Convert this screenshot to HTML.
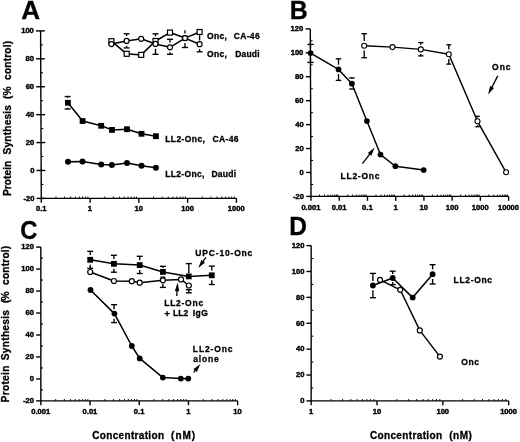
<!DOCTYPE html>
<html><head><meta charset="utf-8"><style>
html,body{margin:0;padding:0;background:#fff;}
svg{display:block;will-change:transform;filter:blur(0.3px);}
text{font-family:"Liberation Sans",sans-serif;font-weight:bold;fill:#000;stroke:#000;stroke-width:0.3px;}
text.t{stroke-width:0.42px;}
</style></head><body>
<svg width="520" height="442" viewBox="0 0 520 442" stroke="#000" stroke-linecap="butt">
<rect x="0" y="0" width="520" height="442" fill="#fff" stroke="none"/>
<g>
<text x="21.15" y="18.70" font-size="25.5" textLength="18.86" lengthAdjust="spacingAndGlyphs">A</text>
<line x1="40.60" y1="30.90" x2="41.30" y2="198.40" stroke-width="1.4"/>
<line x1="36.60" y1="198.40" x2="45.50" y2="198.40" stroke-width="1.4"/>
<text x="34.55" y="200.70" font-size="7.6" text-anchor="end" class="t">-20</text>
<line x1="41.24" y1="184.44" x2="43.44" y2="184.44" stroke-width="1.1"/>
<line x1="36.48" y1="170.48" x2="45.38" y2="170.48" stroke-width="1.4"/>
<text x="34.43" y="172.78" font-size="7.6" text-anchor="end" class="t">0</text>
<line x1="41.12" y1="156.52" x2="43.32" y2="156.52" stroke-width="1.1"/>
<line x1="36.37" y1="142.56" x2="45.27" y2="142.56" stroke-width="1.4"/>
<text x="34.32" y="144.86" font-size="7.6" text-anchor="end" class="t">20</text>
<line x1="41.01" y1="128.61" x2="43.21" y2="128.61" stroke-width="1.1"/>
<line x1="36.25" y1="114.65" x2="45.15" y2="114.65" stroke-width="1.4"/>
<text x="34.20" y="116.95" font-size="7.6" text-anchor="end" class="t">40</text>
<line x1="40.89" y1="100.69" x2="43.09" y2="100.69" stroke-width="1.1"/>
<line x1="36.13" y1="86.73" x2="45.03" y2="86.73" stroke-width="1.4"/>
<text x="34.08" y="89.03" font-size="7.6" text-anchor="end" class="t">60</text>
<line x1="40.78" y1="72.77" x2="42.98" y2="72.77" stroke-width="1.1"/>
<line x1="36.02" y1="58.82" x2="44.92" y2="58.82" stroke-width="1.4"/>
<text x="33.97" y="61.12" font-size="7.6" text-anchor="end" class="t">80</text>
<line x1="40.66" y1="44.86" x2="42.86" y2="44.86" stroke-width="1.1"/>
<line x1="35.90" y1="30.90" x2="44.80" y2="30.90" stroke-width="1.4"/>
<text x="33.85" y="33.20" font-size="7.6" text-anchor="end" class="t">100</text>
<line x1="41.30" y1="198.40" x2="236.42" y2="198.40" stroke-width="1.4"/>
<line x1="41.30" y1="198.40" x2="41.30" y2="202.80" stroke-width="1.4"/>
<line x1="55.98" y1="198.40" x2="55.98" y2="196.60" stroke-width="1.0"/>
<line x1="64.57" y1="198.40" x2="64.57" y2="196.60" stroke-width="1.0"/>
<line x1="70.67" y1="198.40" x2="70.67" y2="196.60" stroke-width="1.0"/>
<line x1="75.40" y1="198.40" x2="75.40" y2="196.60" stroke-width="1.0"/>
<line x1="79.26" y1="198.40" x2="79.26" y2="196.60" stroke-width="1.0"/>
<line x1="82.52" y1="198.40" x2="82.52" y2="196.60" stroke-width="1.0"/>
<line x1="85.35" y1="198.40" x2="85.35" y2="196.60" stroke-width="1.0"/>
<line x1="87.85" y1="198.40" x2="87.85" y2="196.60" stroke-width="1.0"/>
<line x1="90.08" y1="198.40" x2="90.08" y2="202.80" stroke-width="1.4"/>
<line x1="104.76" y1="198.40" x2="104.76" y2="196.60" stroke-width="1.0"/>
<line x1="113.35" y1="198.40" x2="113.35" y2="196.60" stroke-width="1.0"/>
<line x1="119.45" y1="198.40" x2="119.45" y2="196.60" stroke-width="1.0"/>
<line x1="124.18" y1="198.40" x2="124.18" y2="196.60" stroke-width="1.0"/>
<line x1="128.04" y1="198.40" x2="128.04" y2="196.60" stroke-width="1.0"/>
<line x1="131.30" y1="198.40" x2="131.30" y2="196.60" stroke-width="1.0"/>
<line x1="134.13" y1="198.40" x2="134.13" y2="196.60" stroke-width="1.0"/>
<line x1="136.63" y1="198.40" x2="136.63" y2="196.60" stroke-width="1.0"/>
<line x1="138.86" y1="198.40" x2="138.86" y2="202.80" stroke-width="1.4"/>
<line x1="153.54" y1="198.40" x2="153.54" y2="196.60" stroke-width="1.0"/>
<line x1="162.13" y1="198.40" x2="162.13" y2="196.60" stroke-width="1.0"/>
<line x1="168.23" y1="198.40" x2="168.23" y2="196.60" stroke-width="1.0"/>
<line x1="172.96" y1="198.40" x2="172.96" y2="196.60" stroke-width="1.0"/>
<line x1="176.82" y1="198.40" x2="176.82" y2="196.60" stroke-width="1.0"/>
<line x1="180.08" y1="198.40" x2="180.08" y2="196.60" stroke-width="1.0"/>
<line x1="182.91" y1="198.40" x2="182.91" y2="196.60" stroke-width="1.0"/>
<line x1="185.41" y1="198.40" x2="185.41" y2="196.60" stroke-width="1.0"/>
<line x1="187.64" y1="198.40" x2="187.64" y2="202.80" stroke-width="1.4"/>
<line x1="202.32" y1="198.40" x2="202.32" y2="196.60" stroke-width="1.0"/>
<line x1="210.91" y1="198.40" x2="210.91" y2="196.60" stroke-width="1.0"/>
<line x1="217.01" y1="198.40" x2="217.01" y2="196.60" stroke-width="1.0"/>
<line x1="221.74" y1="198.40" x2="221.74" y2="196.60" stroke-width="1.0"/>
<line x1="225.60" y1="198.40" x2="225.60" y2="196.60" stroke-width="1.0"/>
<line x1="228.86" y1="198.40" x2="228.86" y2="196.60" stroke-width="1.0"/>
<line x1="231.69" y1="198.40" x2="231.69" y2="196.60" stroke-width="1.0"/>
<line x1="234.19" y1="198.40" x2="234.19" y2="196.60" stroke-width="1.0"/>
<line x1="236.42" y1="198.40" x2="236.42" y2="202.80" stroke-width="1.4"/>
<text x="41.20" y="211.20" font-size="7.6" text-anchor="middle" class="t">0.1</text>
<text x="89.98" y="211.20" font-size="7.6" text-anchor="middle" class="t">1</text>
<text x="138.76" y="211.20" font-size="7.6" text-anchor="middle" class="t">10</text>
<text x="187.54" y="211.20" font-size="7.6" text-anchor="middle" class="t">100</text>
<text x="236.32" y="211.20" font-size="7.6" text-anchor="middle" class="t">1000</text>
<text x="0" y="0" font-size="10.2" letter-spacing="0.027" transform="translate(11.20,195.99) rotate(-90)">Protein</text>
<text x="0" y="0" font-size="10.2" letter-spacing="0.156" transform="translate(11.20,154.41) rotate(-90)">Synthesis</text>
<text x="0" y="0" font-size="10.2" letter-spacing="0.221" transform="translate(11.20,99.11) rotate(-90)">(%</text>
<text x="0" y="0" font-size="10.2" letter-spacing="0.150" transform="translate(11.20,79.91) rotate(-90)">control)</text>
<line x1="126.60" y1="33.80" x2="126.60" y2="36.00" stroke-width="1.35"/>
<line x1="123.60" y1="33.80" x2="129.60" y2="33.80" stroke-width="1.35"/>
<line x1="126.60" y1="45.80" x2="126.60" y2="47.90" stroke-width="1.35"/>
<line x1="123.60" y1="47.90" x2="129.60" y2="47.90" stroke-width="1.35"/>
<line x1="155.50" y1="33.80" x2="155.50" y2="36.40" stroke-width="1.35"/>
<line x1="152.50" y1="33.80" x2="158.50" y2="33.80" stroke-width="1.35"/>
<line x1="155.50" y1="48.80" x2="155.50" y2="54.30" stroke-width="1.35"/>
<line x1="152.50" y1="54.30" x2="158.50" y2="54.30" stroke-width="1.35"/>
<line x1="170.00" y1="39.30" x2="170.00" y2="42.40" stroke-width="1.35"/>
<line x1="167.00" y1="39.30" x2="173.00" y2="39.30" stroke-width="1.35"/>
<line x1="170.00" y1="52.20" x2="170.00" y2="54.30" stroke-width="1.35"/>
<line x1="167.00" y1="54.30" x2="173.00" y2="54.30" stroke-width="1.35"/>
<line x1="185.00" y1="30.20" x2="185.00" y2="33.40" stroke-width="1.35"/>
<line x1="185.00" y1="43.00" x2="185.00" y2="47.50" stroke-width="1.35"/>
<line x1="182.00" y1="47.50" x2="188.00" y2="47.50" stroke-width="1.35"/>
<line x1="199.60" y1="35.20" x2="199.60" y2="40.50" stroke-width="1.35"/>
<line x1="199.60" y1="49.10" x2="199.60" y2="51.80" stroke-width="1.35"/>
<line x1="196.60" y1="51.80" x2="202.60" y2="51.80" stroke-width="1.35"/>
<polyline points="111.40,44.10 126.60,40.90 141.20,38.80 155.50,43.90 170.00,47.30 185.00,38.10 199.60,44.20" fill="none" stroke-width="1.55" stroke-linejoin="round"/>
<polyline points="111.40,41.20 126.70,53.80 141.20,54.90 155.50,41.00 170.00,32.60 185.00,38.10 199.60,32.00" fill="none" stroke-width="1.55" stroke-linejoin="round"/>
<rect x="108.90" y="38.70" width="5.0" height="5.0" fill="#fff" stroke-width="1.2"/>
<rect x="124.20" y="51.30" width="5.0" height="5.0" fill="#fff" stroke-width="1.2"/>
<rect x="138.70" y="52.40" width="5.0" height="5.0" fill="#fff" stroke-width="1.2"/>
<rect x="153.00" y="38.50" width="5.0" height="5.0" fill="#fff" stroke-width="1.2"/>
<rect x="167.50" y="30.10" width="5.0" height="5.0" fill="#fff" stroke-width="1.2"/>
<rect x="182.90" y="36.00" width="4.2" height="4.2" fill="#fff" stroke-width="1.2"/>
<rect x="197.10" y="29.50" width="5.0" height="5.0" fill="#fff" stroke-width="1.2"/>
<circle cx="111.40" cy="44.10" r="2.5" fill="#fff" stroke-width="1.2"/>
<circle cx="126.60" cy="40.90" r="2.5" fill="#fff" stroke-width="1.2"/>
<circle cx="141.20" cy="38.80" r="2.5" fill="#fff" stroke-width="1.2"/>
<circle cx="155.50" cy="43.90" r="2.5" fill="#fff" stroke-width="1.2"/>
<circle cx="170.00" cy="47.30" r="2.5" fill="#fff" stroke-width="1.2"/>
<circle cx="185.00" cy="38.10" r="2.5" fill="#fff" stroke-width="1.2"/>
<circle cx="199.60" cy="44.20" r="2.5" fill="#fff" stroke-width="1.2"/>
<text x="207.06" y="39.30" font-size="8.5" letter-spacing="0.274">Onc,</text>
<text x="233.66" y="39.30" font-size="8.5" letter-spacing="0.348">CA-46</text>
<text x="207.06" y="56.60" font-size="8.5" letter-spacing="0.274">Onc,</text>
<text x="235.23" y="56.60" font-size="8.5" letter-spacing="0.190">Daudi</text>
<line x1="67.60" y1="96.50" x2="67.60" y2="97.90" stroke-width="1.35"/>
<line x1="64.60" y1="96.50" x2="70.60" y2="96.50" stroke-width="1.35"/>
<line x1="67.60" y1="107.70" x2="67.60" y2="109.00" stroke-width="1.35"/>
<line x1="64.60" y1="109.00" x2="70.60" y2="109.00" stroke-width="1.35"/>
<polyline points="67.90,102.80 82.60,121.00 101.20,125.80 112.00,129.90 127.00,129.20 141.50,133.80 155.90,136.20" fill="none" stroke-width="1.55" stroke-linejoin="round"/>
<polyline points="68.00,161.80 82.50,161.50 101.20,164.40 111.90,165.00 127.00,162.90 141.50,165.70 155.90,167.80" fill="none" stroke-width="1.55" stroke-linejoin="round"/>
<rect x="65.00" y="99.90" width="5.8" height="5.8" fill="#000" stroke="none"/>
<rect x="79.70" y="118.10" width="5.8" height="5.8" fill="#000" stroke="none"/>
<rect x="98.30" y="122.90" width="5.8" height="5.8" fill="#000" stroke="none"/>
<rect x="109.10" y="127.00" width="5.8" height="5.8" fill="#000" stroke="none"/>
<rect x="124.10" y="126.30" width="5.8" height="5.8" fill="#000" stroke="none"/>
<rect x="138.60" y="130.90" width="5.8" height="5.8" fill="#000" stroke="none"/>
<rect x="153.00" y="133.30" width="5.8" height="5.8" fill="#000" stroke="none"/>
<circle cx="68.00" cy="161.80" r="3.0" fill="#000" stroke="none"/>
<circle cx="82.50" cy="161.50" r="3.0" fill="#000" stroke="none"/>
<circle cx="101.20" cy="164.40" r="3.0" fill="#000" stroke="none"/>
<circle cx="111.90" cy="165.00" r="3.0" fill="#000" stroke="none"/>
<circle cx="127.00" cy="162.90" r="3.0" fill="#000" stroke="none"/>
<circle cx="141.50" cy="165.70" r="3.0" fill="#000" stroke="none"/>
<circle cx="155.90" cy="167.80" r="3.0" fill="#000" stroke="none"/>
<text x="165.23" y="142.00" font-size="8.5" letter-spacing="0.403">LL2-Onc,</text>
<text x="212.46" y="142.00" font-size="8.5" letter-spacing="0.373">CA-46</text>
<text x="165.23" y="177.00" font-size="8.5" letter-spacing="0.332">LL2-Onc,</text>
<text x="211.43" y="177.00" font-size="8.5" letter-spacing="0.265">Daudi</text>
<text x="289.72" y="19.00" font-size="25.5" textLength="18.00" lengthAdjust="spacingAndGlyphs">B</text>
<line x1="310.30" y1="28.90" x2="311.00" y2="196.40" stroke-width="1.4"/>
<line x1="306.30" y1="196.40" x2="311.00" y2="196.40" stroke-width="1.4"/>
<text x="303.95" y="198.70" font-size="7.6" text-anchor="end" class="t">-20</text>
<line x1="310.95" y1="184.43" x2="313.15" y2="184.43" stroke-width="1.1"/>
<line x1="306.20" y1="172.47" x2="310.90" y2="172.47" stroke-width="1.4"/>
<text x="303.85" y="174.77" font-size="7.6" text-anchor="end" class="t">0</text>
<line x1="310.85" y1="160.50" x2="313.05" y2="160.50" stroke-width="1.1"/>
<line x1="306.10" y1="148.54" x2="310.80" y2="148.54" stroke-width="1.4"/>
<text x="303.75" y="150.84" font-size="7.6" text-anchor="end" class="t">20</text>
<line x1="310.75" y1="136.58" x2="312.95" y2="136.58" stroke-width="1.1"/>
<line x1="306.00" y1="124.61" x2="310.70" y2="124.61" stroke-width="1.4"/>
<text x="303.65" y="126.91" font-size="7.6" text-anchor="end" class="t">40</text>
<line x1="310.65" y1="112.65" x2="312.85" y2="112.65" stroke-width="1.1"/>
<line x1="305.90" y1="100.68" x2="310.60" y2="100.68" stroke-width="1.4"/>
<text x="303.55" y="102.98" font-size="7.6" text-anchor="end" class="t">60</text>
<line x1="310.55" y1="88.72" x2="312.75" y2="88.72" stroke-width="1.1"/>
<line x1="305.80" y1="76.76" x2="310.50" y2="76.76" stroke-width="1.4"/>
<text x="303.45" y="79.06" font-size="7.6" text-anchor="end" class="t">80</text>
<line x1="310.45" y1="64.79" x2="312.65" y2="64.79" stroke-width="1.1"/>
<line x1="305.70" y1="52.83" x2="310.40" y2="52.83" stroke-width="1.4"/>
<text x="303.35" y="55.13" font-size="7.6" text-anchor="end" class="t">100</text>
<line x1="310.35" y1="40.86" x2="312.55" y2="40.86" stroke-width="1.1"/>
<line x1="305.60" y1="28.90" x2="310.30" y2="28.90" stroke-width="1.4"/>
<text x="303.25" y="31.20" font-size="7.6" text-anchor="end" class="t">120</text>
<line x1="311.00" y1="196.40" x2="508.61" y2="196.40" stroke-width="1.4"/>
<line x1="311.00" y1="196.40" x2="311.00" y2="200.80" stroke-width="1.4"/>
<line x1="319.50" y1="196.40" x2="319.50" y2="194.60" stroke-width="1.0"/>
<line x1="324.47" y1="196.40" x2="324.47" y2="194.60" stroke-width="1.0"/>
<line x1="328.00" y1="196.40" x2="328.00" y2="194.60" stroke-width="1.0"/>
<line x1="330.73" y1="196.40" x2="330.73" y2="194.60" stroke-width="1.0"/>
<line x1="332.97" y1="196.40" x2="332.97" y2="194.60" stroke-width="1.0"/>
<line x1="334.86" y1="196.40" x2="334.86" y2="194.60" stroke-width="1.0"/>
<line x1="336.49" y1="196.40" x2="336.49" y2="194.60" stroke-width="1.0"/>
<line x1="337.94" y1="196.40" x2="337.94" y2="194.60" stroke-width="1.0"/>
<line x1="339.23" y1="196.40" x2="339.23" y2="200.80" stroke-width="1.4"/>
<line x1="347.73" y1="196.40" x2="347.73" y2="194.60" stroke-width="1.0"/>
<line x1="352.70" y1="196.40" x2="352.70" y2="194.60" stroke-width="1.0"/>
<line x1="356.23" y1="196.40" x2="356.23" y2="194.60" stroke-width="1.0"/>
<line x1="358.96" y1="196.40" x2="358.96" y2="194.60" stroke-width="1.0"/>
<line x1="361.20" y1="196.40" x2="361.20" y2="194.60" stroke-width="1.0"/>
<line x1="363.09" y1="196.40" x2="363.09" y2="194.60" stroke-width="1.0"/>
<line x1="364.72" y1="196.40" x2="364.72" y2="194.60" stroke-width="1.0"/>
<line x1="366.17" y1="196.40" x2="366.17" y2="194.60" stroke-width="1.0"/>
<line x1="367.46" y1="196.40" x2="367.46" y2="200.80" stroke-width="1.4"/>
<line x1="375.96" y1="196.40" x2="375.96" y2="194.60" stroke-width="1.0"/>
<line x1="380.93" y1="196.40" x2="380.93" y2="194.60" stroke-width="1.0"/>
<line x1="384.46" y1="196.40" x2="384.46" y2="194.60" stroke-width="1.0"/>
<line x1="387.19" y1="196.40" x2="387.19" y2="194.60" stroke-width="1.0"/>
<line x1="389.43" y1="196.40" x2="389.43" y2="194.60" stroke-width="1.0"/>
<line x1="391.32" y1="196.40" x2="391.32" y2="194.60" stroke-width="1.0"/>
<line x1="392.95" y1="196.40" x2="392.95" y2="194.60" stroke-width="1.0"/>
<line x1="394.40" y1="196.40" x2="394.40" y2="194.60" stroke-width="1.0"/>
<line x1="395.69" y1="196.40" x2="395.69" y2="200.80" stroke-width="1.4"/>
<line x1="404.19" y1="196.40" x2="404.19" y2="194.60" stroke-width="1.0"/>
<line x1="409.16" y1="196.40" x2="409.16" y2="194.60" stroke-width="1.0"/>
<line x1="412.69" y1="196.40" x2="412.69" y2="194.60" stroke-width="1.0"/>
<line x1="415.42" y1="196.40" x2="415.42" y2="194.60" stroke-width="1.0"/>
<line x1="417.66" y1="196.40" x2="417.66" y2="194.60" stroke-width="1.0"/>
<line x1="419.55" y1="196.40" x2="419.55" y2="194.60" stroke-width="1.0"/>
<line x1="421.18" y1="196.40" x2="421.18" y2="194.60" stroke-width="1.0"/>
<line x1="422.63" y1="196.40" x2="422.63" y2="194.60" stroke-width="1.0"/>
<line x1="423.92" y1="196.40" x2="423.92" y2="200.80" stroke-width="1.4"/>
<line x1="432.42" y1="196.40" x2="432.42" y2="194.60" stroke-width="1.0"/>
<line x1="437.39" y1="196.40" x2="437.39" y2="194.60" stroke-width="1.0"/>
<line x1="440.92" y1="196.40" x2="440.92" y2="194.60" stroke-width="1.0"/>
<line x1="443.65" y1="196.40" x2="443.65" y2="194.60" stroke-width="1.0"/>
<line x1="445.89" y1="196.40" x2="445.89" y2="194.60" stroke-width="1.0"/>
<line x1="447.78" y1="196.40" x2="447.78" y2="194.60" stroke-width="1.0"/>
<line x1="449.41" y1="196.40" x2="449.41" y2="194.60" stroke-width="1.0"/>
<line x1="450.86" y1="196.40" x2="450.86" y2="194.60" stroke-width="1.0"/>
<line x1="452.15" y1="196.40" x2="452.15" y2="200.80" stroke-width="1.4"/>
<line x1="460.65" y1="196.40" x2="460.65" y2="194.60" stroke-width="1.0"/>
<line x1="465.62" y1="196.40" x2="465.62" y2="194.60" stroke-width="1.0"/>
<line x1="469.15" y1="196.40" x2="469.15" y2="194.60" stroke-width="1.0"/>
<line x1="471.88" y1="196.40" x2="471.88" y2="194.60" stroke-width="1.0"/>
<line x1="474.12" y1="196.40" x2="474.12" y2="194.60" stroke-width="1.0"/>
<line x1="476.01" y1="196.40" x2="476.01" y2="194.60" stroke-width="1.0"/>
<line x1="477.64" y1="196.40" x2="477.64" y2="194.60" stroke-width="1.0"/>
<line x1="479.09" y1="196.40" x2="479.09" y2="194.60" stroke-width="1.0"/>
<line x1="480.38" y1="196.40" x2="480.38" y2="200.80" stroke-width="1.4"/>
<line x1="488.88" y1="196.40" x2="488.88" y2="194.60" stroke-width="1.0"/>
<line x1="493.85" y1="196.40" x2="493.85" y2="194.60" stroke-width="1.0"/>
<line x1="497.38" y1="196.40" x2="497.38" y2="194.60" stroke-width="1.0"/>
<line x1="500.11" y1="196.40" x2="500.11" y2="194.60" stroke-width="1.0"/>
<line x1="502.35" y1="196.40" x2="502.35" y2="194.60" stroke-width="1.0"/>
<line x1="504.24" y1="196.40" x2="504.24" y2="194.60" stroke-width="1.0"/>
<line x1="505.87" y1="196.40" x2="505.87" y2="194.60" stroke-width="1.0"/>
<line x1="507.32" y1="196.40" x2="507.32" y2="194.60" stroke-width="1.0"/>
<line x1="508.61" y1="196.40" x2="508.61" y2="200.80" stroke-width="1.4"/>
<text x="310.90" y="209.60" font-size="7.6" text-anchor="middle" class="t">0.001</text>
<text x="339.13" y="209.60" font-size="7.6" text-anchor="middle" class="t">0.01</text>
<text x="367.36" y="209.60" font-size="7.6" text-anchor="middle" class="t">0.1</text>
<text x="395.59" y="209.60" font-size="7.6" text-anchor="middle" class="t">1</text>
<text x="423.82" y="209.60" font-size="7.6" text-anchor="middle" class="t">10</text>
<text x="452.05" y="209.60" font-size="7.6" text-anchor="middle" class="t">100</text>
<text x="480.28" y="209.60" font-size="7.6" text-anchor="middle" class="t">1000</text>
<text x="508.51" y="209.60" font-size="7.6" text-anchor="middle" class="t">10000</text>
<line x1="310.50" y1="44.40" x2="310.50" y2="48.70" stroke-width="1.35"/>
<line x1="307.35" y1="44.40" x2="313.65" y2="44.40" stroke-width="1.35"/>
<line x1="310.50" y1="58.10" x2="310.50" y2="62.40" stroke-width="1.35"/>
<line x1="307.35" y1="62.40" x2="313.65" y2="62.40" stroke-width="1.35"/>
<line x1="338.50" y1="58.80" x2="338.50" y2="64.70" stroke-width="1.35"/>
<line x1="335.75" y1="58.80" x2="341.25" y2="58.80" stroke-width="1.35"/>
<line x1="338.50" y1="74.10" x2="338.50" y2="80.40" stroke-width="1.35"/>
<line x1="335.75" y1="80.40" x2="341.25" y2="80.40" stroke-width="1.35"/>
<line x1="351.90" y1="77.90" x2="351.90" y2="79.00" stroke-width="1.35"/>
<line x1="349.15" y1="77.90" x2="354.65" y2="77.90" stroke-width="1.35"/>
<line x1="351.90" y1="88.40" x2="351.90" y2="89.00" stroke-width="1.35"/>
<line x1="349.15" y1="89.00" x2="354.65" y2="89.00" stroke-width="1.35"/>
<line x1="364.20" y1="33.70" x2="364.20" y2="41.10" stroke-width="1.35"/>
<line x1="361.45" y1="33.70" x2="366.95" y2="33.70" stroke-width="1.35"/>
<line x1="364.20" y1="50.50" x2="364.20" y2="57.70" stroke-width="1.35"/>
<line x1="361.45" y1="57.70" x2="366.95" y2="57.70" stroke-width="1.35"/>
<line x1="420.80" y1="42.60" x2="420.80" y2="44.70" stroke-width="1.35"/>
<line x1="418.15" y1="42.60" x2="423.45" y2="42.60" stroke-width="1.35"/>
<line x1="420.80" y1="54.10" x2="420.80" y2="55.90" stroke-width="1.35"/>
<line x1="418.15" y1="55.90" x2="423.45" y2="55.90" stroke-width="1.35"/>
<line x1="448.80" y1="44.80" x2="448.80" y2="49.50" stroke-width="1.35"/>
<line x1="446.40" y1="44.80" x2="451.20" y2="44.80" stroke-width="1.35"/>
<line x1="448.80" y1="58.90" x2="448.80" y2="64.10" stroke-width="1.35"/>
<line x1="446.40" y1="64.10" x2="451.20" y2="64.10" stroke-width="1.35"/>
<line x1="477.50" y1="116.30" x2="477.50" y2="117.50" stroke-width="1.35"/>
<line x1="475.25" y1="116.30" x2="479.75" y2="116.30" stroke-width="1.35"/>
<line x1="477.50" y1="125.10" x2="477.50" y2="126.70" stroke-width="1.35"/>
<line x1="475.25" y1="126.70" x2="479.75" y2="126.70" stroke-width="1.35"/>
<polyline points="310.60,53.10 338.50,69.40 351.90,83.70 366.90,121.00 380.50,154.60 395.40,166.20 423.70,170.00" fill="none" stroke-width="1.45" stroke-linejoin="round"/>
<polyline points="364.20,45.80 392.50,47.10 420.80,49.40 448.80,54.20 477.50,121.30 506.10,172.30" fill="none" stroke-width="1.45" stroke-linejoin="round"/>
<circle cx="310.60" cy="53.10" r="2.85" fill="#000" stroke="none"/>
<circle cx="338.50" cy="69.40" r="2.85" fill="#000" stroke="none"/>
<circle cx="351.90" cy="83.70" r="2.85" fill="#000" stroke="none"/>
<circle cx="366.90" cy="121.00" r="2.85" fill="#000" stroke="none"/>
<circle cx="380.50" cy="154.60" r="2.85" fill="#000" stroke="none"/>
<circle cx="395.40" cy="166.20" r="2.85" fill="#000" stroke="none"/>
<circle cx="423.70" cy="170.00" r="2.85" fill="#000" stroke="none"/>
<circle cx="364.20" cy="45.80" r="2.5" fill="#fff" stroke-width="1.1"/>
<circle cx="392.50" cy="47.10" r="2.5" fill="#fff" stroke-width="1.1"/>
<circle cx="420.80" cy="49.40" r="2.5" fill="#fff" stroke-width="1.1"/>
<circle cx="448.80" cy="54.20" r="2.5" fill="#fff" stroke-width="1.1"/>
<circle cx="477.50" cy="121.30" r="2.5" fill="#fff" stroke-width="1.1"/>
<circle cx="506.10" cy="172.30" r="2.5" fill="#fff" stroke-width="1.1"/>
<text x="492.06" y="69.80" font-size="8.5" letter-spacing="0.981">Onc</text>
<line x1="497.80" y1="75.90" x2="491.57" y2="87.85" stroke-width="1.3"/>
<polygon points="488.10,94.50 490.08,85.95 493.98,87.98" fill="#000" stroke="none"/>
<text x="340.53" y="178.90" font-size="8.5" letter-spacing="0.740">LL2-Onc</text>
<line x1="362.40" y1="163.60" x2="370.13" y2="153.55" stroke-width="1.3"/>
<polygon points="374.70,147.60 371.26,155.68 367.78,153.00" fill="#000" stroke="none"/>
<text x="20.15" y="238.50" font-size="25.5" textLength="17.20" lengthAdjust="spacingAndGlyphs">C</text>
<line x1="40.85" y1="247.10" x2="40.85" y2="400.90" stroke-width="1.4"/>
<line x1="36.15" y1="400.90" x2="40.85" y2="400.90" stroke-width="1.4"/>
<text x="34.00" y="403.20" font-size="7.6" text-anchor="end" class="t">-20</text>
<line x1="40.85" y1="389.92" x2="43.05" y2="389.92" stroke-width="1.1"/>
<line x1="36.15" y1="378.93" x2="40.85" y2="378.93" stroke-width="1.4"/>
<text x="34.00" y="381.23" font-size="7.6" text-anchor="end" class="t">0</text>
<line x1="40.85" y1="367.95" x2="43.05" y2="367.95" stroke-width="1.1"/>
<line x1="36.15" y1="356.96" x2="40.85" y2="356.96" stroke-width="1.4"/>
<text x="34.00" y="359.26" font-size="7.6" text-anchor="end" class="t">20</text>
<line x1="40.85" y1="345.97" x2="43.05" y2="345.97" stroke-width="1.1"/>
<line x1="36.15" y1="334.99" x2="40.85" y2="334.99" stroke-width="1.4"/>
<text x="34.00" y="337.29" font-size="7.6" text-anchor="end" class="t">40</text>
<line x1="40.85" y1="324.00" x2="43.05" y2="324.00" stroke-width="1.1"/>
<line x1="36.15" y1="313.02" x2="40.85" y2="313.02" stroke-width="1.4"/>
<text x="34.00" y="315.32" font-size="7.6" text-anchor="end" class="t">60</text>
<line x1="40.85" y1="302.03" x2="43.05" y2="302.03" stroke-width="1.1"/>
<line x1="36.15" y1="291.04" x2="40.85" y2="291.04" stroke-width="1.4"/>
<text x="34.00" y="293.34" font-size="7.6" text-anchor="end" class="t">80</text>
<line x1="40.85" y1="280.06" x2="43.05" y2="280.06" stroke-width="1.1"/>
<line x1="36.15" y1="269.07" x2="40.85" y2="269.07" stroke-width="1.4"/>
<text x="34.00" y="271.37" font-size="7.6" text-anchor="end" class="t">100</text>
<line x1="40.85" y1="258.09" x2="43.05" y2="258.09" stroke-width="1.1"/>
<line x1="36.15" y1="247.10" x2="40.85" y2="247.10" stroke-width="1.4"/>
<text x="34.00" y="249.40" font-size="7.6" text-anchor="end" class="t">120</text>
<line x1="40.85" y1="400.90" x2="237.65" y2="400.90" stroke-width="1.4"/>
<line x1="40.85" y1="400.90" x2="40.85" y2="405.30" stroke-width="1.4"/>
<line x1="55.66" y1="400.90" x2="55.66" y2="399.10" stroke-width="1.0"/>
<line x1="64.32" y1="400.90" x2="64.32" y2="399.10" stroke-width="1.0"/>
<line x1="70.47" y1="400.90" x2="70.47" y2="399.10" stroke-width="1.0"/>
<line x1="75.24" y1="400.90" x2="75.24" y2="399.10" stroke-width="1.0"/>
<line x1="79.14" y1="400.90" x2="79.14" y2="399.10" stroke-width="1.0"/>
<line x1="82.43" y1="400.90" x2="82.43" y2="399.10" stroke-width="1.0"/>
<line x1="85.28" y1="400.90" x2="85.28" y2="399.10" stroke-width="1.0"/>
<line x1="87.80" y1="400.90" x2="87.80" y2="399.10" stroke-width="1.0"/>
<line x1="90.05" y1="400.90" x2="90.05" y2="405.30" stroke-width="1.4"/>
<line x1="104.86" y1="400.90" x2="104.86" y2="399.10" stroke-width="1.0"/>
<line x1="113.52" y1="400.90" x2="113.52" y2="399.10" stroke-width="1.0"/>
<line x1="119.67" y1="400.90" x2="119.67" y2="399.10" stroke-width="1.0"/>
<line x1="124.44" y1="400.90" x2="124.44" y2="399.10" stroke-width="1.0"/>
<line x1="128.34" y1="400.90" x2="128.34" y2="399.10" stroke-width="1.0"/>
<line x1="131.63" y1="400.90" x2="131.63" y2="399.10" stroke-width="1.0"/>
<line x1="134.48" y1="400.90" x2="134.48" y2="399.10" stroke-width="1.0"/>
<line x1="137.00" y1="400.90" x2="137.00" y2="399.10" stroke-width="1.0"/>
<line x1="139.25" y1="400.90" x2="139.25" y2="405.30" stroke-width="1.4"/>
<line x1="154.06" y1="400.90" x2="154.06" y2="399.10" stroke-width="1.0"/>
<line x1="162.72" y1="400.90" x2="162.72" y2="399.10" stroke-width="1.0"/>
<line x1="168.87" y1="400.90" x2="168.87" y2="399.10" stroke-width="1.0"/>
<line x1="173.64" y1="400.90" x2="173.64" y2="399.10" stroke-width="1.0"/>
<line x1="177.54" y1="400.90" x2="177.54" y2="399.10" stroke-width="1.0"/>
<line x1="180.83" y1="400.90" x2="180.83" y2="399.10" stroke-width="1.0"/>
<line x1="183.68" y1="400.90" x2="183.68" y2="399.10" stroke-width="1.0"/>
<line x1="186.20" y1="400.90" x2="186.20" y2="399.10" stroke-width="1.0"/>
<line x1="188.45" y1="400.90" x2="188.45" y2="405.30" stroke-width="1.4"/>
<line x1="203.26" y1="400.90" x2="203.26" y2="399.10" stroke-width="1.0"/>
<line x1="211.92" y1="400.90" x2="211.92" y2="399.10" stroke-width="1.0"/>
<line x1="218.07" y1="400.90" x2="218.07" y2="399.10" stroke-width="1.0"/>
<line x1="222.84" y1="400.90" x2="222.84" y2="399.10" stroke-width="1.0"/>
<line x1="226.74" y1="400.90" x2="226.74" y2="399.10" stroke-width="1.0"/>
<line x1="230.03" y1="400.90" x2="230.03" y2="399.10" stroke-width="1.0"/>
<line x1="232.88" y1="400.90" x2="232.88" y2="399.10" stroke-width="1.0"/>
<line x1="235.40" y1="400.90" x2="235.40" y2="399.10" stroke-width="1.0"/>
<line x1="237.65" y1="400.90" x2="237.65" y2="405.30" stroke-width="1.4"/>
<text x="40.75" y="413.80" font-size="7.6" text-anchor="middle" class="t">0.001</text>
<text x="89.95" y="413.80" font-size="7.6" text-anchor="middle" class="t">0.01</text>
<text x="139.15" y="413.80" font-size="7.6" text-anchor="middle" class="t">0.1</text>
<text x="188.35" y="413.80" font-size="7.6" text-anchor="middle" class="t">1</text>
<text x="237.55" y="413.80" font-size="7.6" text-anchor="middle" class="t">10</text>
<text x="0" y="0" font-size="10.2" letter-spacing="0.277" transform="translate(9.20,402.39) rotate(-90)">Protein</text>
<text x="0" y="0" font-size="10.2" letter-spacing="0.256" transform="translate(9.20,360.21) rotate(-90)">Synthesis</text>
<text x="0" y="0" font-size="10.2" letter-spacing="-0.879" transform="translate(9.20,303.01) rotate(-90)">(%</text>
<text x="0" y="0" font-size="10.2" letter-spacing="0.178" transform="translate(9.20,284.91) rotate(-90)">control)</text>
<text x="92.30" y="439.00" font-size="10.0" letter-spacing="0.327">Concentration</text>
<text x="171.10" y="439.00" font-size="10.0" letter-spacing="0.967">(nM)</text>
<line x1="90.20" y1="251.30" x2="90.20" y2="254.90" stroke-width="1.35"/>
<line x1="87.20" y1="251.30" x2="93.20" y2="251.30" stroke-width="1.35"/>
<line x1="90.20" y1="264.70" x2="90.20" y2="268.30" stroke-width="1.35"/>
<line x1="87.20" y1="268.30" x2="93.20" y2="268.30" stroke-width="1.35"/>
<line x1="113.90" y1="255.30" x2="113.90" y2="258.90" stroke-width="1.35"/>
<line x1="110.90" y1="255.30" x2="116.90" y2="255.30" stroke-width="1.35"/>
<line x1="113.90" y1="268.70" x2="113.90" y2="272.20" stroke-width="1.35"/>
<line x1="110.90" y1="272.20" x2="116.90" y2="272.20" stroke-width="1.35"/>
<line x1="139.70" y1="256.30" x2="139.70" y2="260.20" stroke-width="1.35"/>
<line x1="136.70" y1="256.30" x2="142.70" y2="256.30" stroke-width="1.35"/>
<line x1="139.70" y1="270.00" x2="139.70" y2="273.50" stroke-width="1.35"/>
<line x1="136.70" y1="273.50" x2="142.70" y2="273.50" stroke-width="1.35"/>
<line x1="162.90" y1="266.30" x2="162.90" y2="268.00" stroke-width="1.35"/>
<line x1="159.90" y1="266.30" x2="165.90" y2="266.30" stroke-width="1.35"/>
<line x1="162.90" y1="284.00" x2="162.90" y2="287.40" stroke-width="1.35"/>
<line x1="159.90" y1="287.40" x2="165.90" y2="287.40" stroke-width="1.35"/>
<line x1="160.40" y1="277.20" x2="165.40" y2="277.20" stroke-width="1.35"/>
<line x1="188.80" y1="263.60" x2="188.80" y2="273.30" stroke-width="1.35"/>
<line x1="185.80" y1="263.60" x2="191.80" y2="263.60" stroke-width="1.35"/>
<line x1="188.80" y1="289.30" x2="188.80" y2="292.80" stroke-width="1.35"/>
<line x1="185.80" y1="292.80" x2="191.80" y2="292.80" stroke-width="1.35"/>
<line x1="185.80" y1="289.70" x2="191.80" y2="289.70" stroke-width="1.35"/>
<line x1="211.80" y1="266.10" x2="211.80" y2="270.40" stroke-width="1.35"/>
<line x1="208.80" y1="266.10" x2="214.80" y2="266.10" stroke-width="1.35"/>
<line x1="211.80" y1="280.20" x2="211.80" y2="284.50" stroke-width="1.35"/>
<line x1="208.80" y1="284.50" x2="214.80" y2="284.50" stroke-width="1.35"/>
<line x1="114.05" y1="304.70" x2="114.05" y2="309.30" stroke-width="1.35"/>
<line x1="111.05" y1="304.70" x2="117.05" y2="304.70" stroke-width="1.35"/>
<line x1="114.05" y1="318.70" x2="114.05" y2="322.60" stroke-width="1.35"/>
<line x1="111.05" y1="322.60" x2="117.05" y2="322.60" stroke-width="1.35"/>
<polyline points="90.20,259.80 113.90,263.80 139.70,265.10 162.90,271.90 188.80,276.40 211.80,275.30" fill="none" stroke-width="1.55" stroke-linejoin="round"/>
<polyline points="90.20,272.00 113.90,281.00 131.80,281.20 139.70,282.70 162.90,280.30 181.00,279.40 188.80,285.50" fill="none" stroke-width="1.55" stroke-linejoin="round"/>
<polyline points="90.50,290.00 114.40,313.60 131.80,346.00 139.70,358.40 162.90,377.60 180.80,378.60 188.30,378.60" fill="none" stroke-width="1.55" stroke-linejoin="round"/>
<rect x="87.30" y="256.90" width="5.8" height="5.8" fill="#000" stroke="none"/>
<rect x="111.00" y="260.90" width="5.8" height="5.8" fill="#000" stroke="none"/>
<rect x="136.80" y="262.20" width="5.8" height="5.8" fill="#000" stroke="none"/>
<rect x="160.00" y="269.00" width="5.8" height="5.8" fill="#000" stroke="none"/>
<rect x="185.90" y="273.50" width="5.8" height="5.8" fill="#000" stroke="none"/>
<rect x="208.90" y="272.40" width="5.8" height="5.8" fill="#000" stroke="none"/>
<circle cx="90.20" cy="272.00" r="2.5" fill="#fff" stroke-width="1.2"/>
<circle cx="113.90" cy="281.00" r="2.5" fill="#fff" stroke-width="1.2"/>
<circle cx="131.80" cy="281.20" r="2.5" fill="#fff" stroke-width="1.2"/>
<circle cx="139.70" cy="282.70" r="2.5" fill="#fff" stroke-width="1.2"/>
<circle cx="162.90" cy="280.30" r="2.5" fill="#fff" stroke-width="1.2"/>
<circle cx="181.00" cy="279.40" r="2.5" fill="#fff" stroke-width="1.2"/>
<circle cx="188.80" cy="285.50" r="2.5" fill="#fff" stroke-width="1.2"/>
<circle cx="90.50" cy="290.00" r="2.9" fill="#000" stroke="none"/>
<circle cx="114.40" cy="313.60" r="2.9" fill="#000" stroke="none"/>
<circle cx="131.80" cy="346.00" r="2.9" fill="#000" stroke="none"/>
<circle cx="139.70" cy="358.40" r="2.9" fill="#000" stroke="none"/>
<circle cx="162.90" cy="377.60" r="2.9" fill="#000" stroke="none"/>
<circle cx="180.80" cy="378.60" r="2.9" fill="#000" stroke="none"/>
<circle cx="188.30" cy="378.60" r="2.9" fill="#000" stroke="none"/>
<text x="195.29" y="255.60" font-size="8.5" letter-spacing="0.830">UPC-10-Onc</text>
<line x1="205.90" y1="257.30" x2="202.62" y2="261.97" stroke-width="1.3"/>
<polygon points="198.30,268.10 201.39,259.88 204.99,262.41" fill="#000" stroke="none"/>
<text x="164.23" y="305.80" font-size="8.5" letter-spacing="0.740">LL2-Onc</text>
<text x="164.41" y="316.80" font-size="8.5" textLength="5.37" lengthAdjust="spacingAndGlyphs">+</text>
<text x="172.93" y="315.60" font-size="8.5" letter-spacing="0.103">LL2</text>
<text x="192.63" y="315.60" font-size="8.5" letter-spacing="0.526">IgG</text>
<line x1="176.70" y1="296.00" x2="177.10" y2="290.08" stroke-width="1.3"/>
<polygon points="177.60,282.60 179.23,291.23 174.84,290.93" fill="#000" stroke="none"/>
<text x="192.83" y="351.70" font-size="8.5" letter-spacing="0.873">LL2-Onc</text>
<text x="193.15" y="361.60" font-size="8.5" letter-spacing="0.837">alone</text>
<line x1="193.70" y1="372.40" x2="195.76" y2="369.79" stroke-width="1.3"/>
<polygon points="200.40,363.90 196.87,371.94 193.41,369.21" fill="#000" stroke="none"/>
<text x="289.35" y="235.40" font-size="25.5" textLength="17.69" lengthAdjust="spacingAndGlyphs">D</text>
<line x1="311.15" y1="245.60" x2="311.15" y2="400.90" stroke-width="1.4"/>
<line x1="306.45" y1="400.90" x2="311.15" y2="400.90" stroke-width="1.4"/>
<text x="304.40" y="403.20" font-size="7.6" text-anchor="end" class="t">0</text>
<line x1="311.15" y1="387.96" x2="313.35" y2="387.96" stroke-width="1.1"/>
<line x1="306.45" y1="375.02" x2="311.15" y2="375.02" stroke-width="1.4"/>
<text x="304.40" y="377.32" font-size="7.6" text-anchor="end" class="t">20</text>
<line x1="311.15" y1="362.08" x2="313.35" y2="362.08" stroke-width="1.1"/>
<line x1="306.45" y1="349.14" x2="311.15" y2="349.14" stroke-width="1.4"/>
<text x="304.40" y="351.44" font-size="7.6" text-anchor="end" class="t">40</text>
<line x1="311.15" y1="336.19" x2="313.35" y2="336.19" stroke-width="1.1"/>
<line x1="306.45" y1="323.25" x2="311.15" y2="323.25" stroke-width="1.4"/>
<text x="304.40" y="325.55" font-size="7.6" text-anchor="end" class="t">60</text>
<line x1="311.15" y1="310.31" x2="313.35" y2="310.31" stroke-width="1.1"/>
<line x1="306.45" y1="297.37" x2="311.15" y2="297.37" stroke-width="1.4"/>
<text x="304.40" y="299.67" font-size="7.6" text-anchor="end" class="t">80</text>
<line x1="311.15" y1="284.43" x2="313.35" y2="284.43" stroke-width="1.1"/>
<line x1="306.45" y1="271.48" x2="311.15" y2="271.48" stroke-width="1.4"/>
<text x="304.40" y="273.78" font-size="7.6" text-anchor="end" class="t">100</text>
<line x1="311.15" y1="258.54" x2="313.35" y2="258.54" stroke-width="1.1"/>
<line x1="306.45" y1="245.60" x2="311.15" y2="245.60" stroke-width="1.4"/>
<text x="304.40" y="247.90" font-size="7.6" text-anchor="end" class="t">120</text>
<line x1="311.15" y1="400.90" x2="508.70" y2="400.90" stroke-width="1.4"/>
<line x1="311.15" y1="400.90" x2="311.15" y2="405.30" stroke-width="1.4"/>
<line x1="330.97" y1="400.90" x2="330.97" y2="399.10" stroke-width="1.0"/>
<line x1="342.57" y1="400.90" x2="342.57" y2="399.10" stroke-width="1.0"/>
<line x1="350.80" y1="400.90" x2="350.80" y2="399.10" stroke-width="1.0"/>
<line x1="357.18" y1="400.90" x2="357.18" y2="399.10" stroke-width="1.0"/>
<line x1="362.39" y1="400.90" x2="362.39" y2="399.10" stroke-width="1.0"/>
<line x1="366.80" y1="400.90" x2="366.80" y2="399.10" stroke-width="1.0"/>
<line x1="370.62" y1="400.90" x2="370.62" y2="399.10" stroke-width="1.0"/>
<line x1="373.99" y1="400.90" x2="373.99" y2="399.10" stroke-width="1.0"/>
<line x1="377.00" y1="400.90" x2="377.00" y2="405.30" stroke-width="1.4"/>
<line x1="396.82" y1="400.90" x2="396.82" y2="399.10" stroke-width="1.0"/>
<line x1="408.42" y1="400.90" x2="408.42" y2="399.10" stroke-width="1.0"/>
<line x1="416.65" y1="400.90" x2="416.65" y2="399.10" stroke-width="1.0"/>
<line x1="423.03" y1="400.90" x2="423.03" y2="399.10" stroke-width="1.0"/>
<line x1="428.24" y1="400.90" x2="428.24" y2="399.10" stroke-width="1.0"/>
<line x1="432.65" y1="400.90" x2="432.65" y2="399.10" stroke-width="1.0"/>
<line x1="436.47" y1="400.90" x2="436.47" y2="399.10" stroke-width="1.0"/>
<line x1="439.84" y1="400.90" x2="439.84" y2="399.10" stroke-width="1.0"/>
<line x1="442.85" y1="400.90" x2="442.85" y2="405.30" stroke-width="1.4"/>
<line x1="462.67" y1="400.90" x2="462.67" y2="399.10" stroke-width="1.0"/>
<line x1="474.27" y1="400.90" x2="474.27" y2="399.10" stroke-width="1.0"/>
<line x1="482.50" y1="400.90" x2="482.50" y2="399.10" stroke-width="1.0"/>
<line x1="488.88" y1="400.90" x2="488.88" y2="399.10" stroke-width="1.0"/>
<line x1="494.09" y1="400.90" x2="494.09" y2="399.10" stroke-width="1.0"/>
<line x1="498.50" y1="400.90" x2="498.50" y2="399.10" stroke-width="1.0"/>
<line x1="502.32" y1="400.90" x2="502.32" y2="399.10" stroke-width="1.0"/>
<line x1="505.69" y1="400.90" x2="505.69" y2="399.10" stroke-width="1.0"/>
<line x1="508.70" y1="400.90" x2="508.70" y2="405.30" stroke-width="1.4"/>
<text x="311.05" y="414.00" font-size="7.6" text-anchor="middle" class="t">1</text>
<text x="376.90" y="414.00" font-size="7.6" text-anchor="middle" class="t">10</text>
<text x="442.75" y="414.00" font-size="7.6" text-anchor="middle" class="t">100</text>
<text x="508.60" y="414.00" font-size="7.6" text-anchor="middle" class="t">1000</text>
<text x="369.90" y="439.20" font-size="10.0" letter-spacing="0.369">Concentration</text>
<text x="449.30" y="439.20" font-size="10.0" letter-spacing="0.467">(nM)</text>
<line x1="372.90" y1="273.40" x2="372.90" y2="280.90" stroke-width="1.35"/>
<line x1="369.90" y1="273.40" x2="375.90" y2="273.40" stroke-width="1.35"/>
<line x1="372.90" y1="290.30" x2="372.90" y2="297.70" stroke-width="1.35"/>
<line x1="369.90" y1="297.70" x2="375.90" y2="297.70" stroke-width="1.35"/>
<line x1="392.70" y1="271.20" x2="392.70" y2="274.00" stroke-width="1.35"/>
<line x1="389.70" y1="271.20" x2="395.70" y2="271.20" stroke-width="1.35"/>
<line x1="392.70" y1="282.00" x2="392.70" y2="284.60" stroke-width="1.35"/>
<line x1="389.70" y1="284.60" x2="395.70" y2="284.60" stroke-width="1.35"/>
<line x1="432.60" y1="264.70" x2="432.60" y2="269.40" stroke-width="1.35"/>
<line x1="429.60" y1="264.70" x2="435.60" y2="264.70" stroke-width="1.35"/>
<line x1="432.60" y1="279.00" x2="432.60" y2="284.00" stroke-width="1.35"/>
<line x1="429.60" y1="284.00" x2="435.60" y2="284.00" stroke-width="1.35"/>
<polyline points="372.90,285.50 392.70,278.00 412.70,297.60 432.60,274.20" fill="none" stroke-width="1.55" stroke-linejoin="round"/>
<polyline points="380.00,279.90 400.20,289.80 419.80,330.40 439.90,356.60" fill="none" stroke-width="1.45" stroke-linejoin="round"/>
<circle cx="372.90" cy="285.50" r="2.9" fill="#000" stroke="none"/>
<circle cx="392.70" cy="278.00" r="2.9" fill="#000" stroke="none"/>
<circle cx="412.70" cy="297.60" r="2.9" fill="#000" stroke="none"/>
<circle cx="432.60" cy="274.20" r="2.9" fill="#000" stroke="none"/>
<circle cx="380.00" cy="279.90" r="2.5" fill="#fff" stroke-width="1.2"/>
<circle cx="400.20" cy="289.80" r="2.5" fill="#fff" stroke-width="1.2"/>
<circle cx="419.80" cy="330.40" r="2.5" fill="#fff" stroke-width="1.2"/>
<circle cx="439.90" cy="356.60" r="2.5" fill="#fff" stroke-width="1.2"/>
<text x="453.53" y="283.20" font-size="8.5" letter-spacing="0.673">LL2-Onc</text>
<text x="461.16" y="365.00" font-size="8.5" letter-spacing="0.631">Onc</text>
</g>
</svg>
</body></html>
